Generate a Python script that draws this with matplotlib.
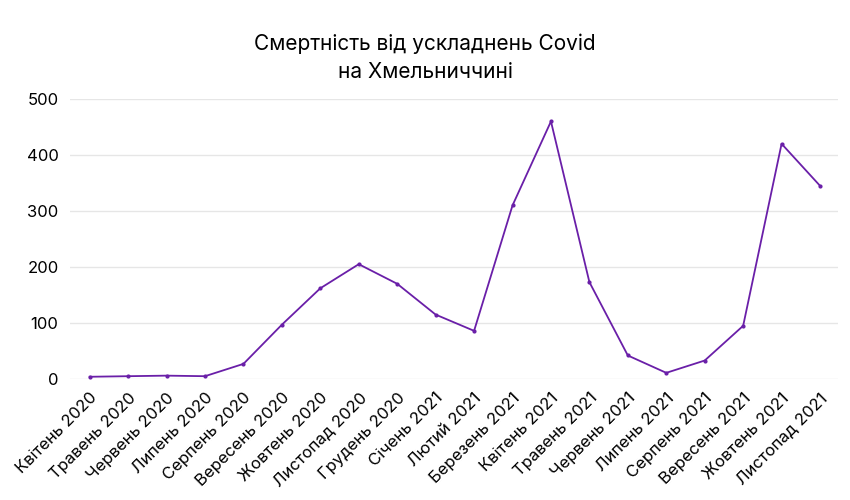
import matplotlib
matplotlib.use("Agg")
import matplotlib.pyplot as plt

months = ["Квітень 2020","Травень 2020","Червень 2020","Липень 2020","Серпень 2020","Вересень 2020",
          "Жовтень 2020","Листопад 2020","Грудень 2020","Січень 2021","Лютий 2021","Березень 2021",
          "Квітень 2021","Травень 2021","Червень 2021","Липень 2021","Серпень 2021","Вересень 2021",
          "Жовтень 2021","Листопад 2021"]
deaths = [4,5,6,5,27,97,162,205,170,115,86,310,460,173,42,11,33,95,420,345]
yticks = [0,100,200,300,400,500]

plt.rcParams['font.family'] = ['Inter', 'DejaVu Sans']
fig = plt.figure(figsize=(8.5,5), dpi=100)
ax = fig.add_axes([0.082, 0.242, 0.904, 0.56])
x = list(range(len(months)))
ax.plot(x, deaths, color='#6a1fa8', lw=1.3, marker='o', ms=2)
ax.set_ylim(0,500)
ax.set_xlim(-0.52, 19.47)
ax.set_yticks(yticks)
ax.set_yticklabels([str(v) for v in yticks], fontsize=12)
ax.set_xticks(x)
ax.set_xticklabels(months, rotation=45, ha='right', rotation_mode='anchor', fontsize=12)
ax.grid(axis='y', color='#e6e6e6', lw=1)
ax.set_axisbelow(True)
for s in ax.spines.values():
    s.set_visible(False)
ax.tick_params(length=0, pad=8)
fig.text(0.5, 0.885, "Смертність від ускладнень Covid\nна Хмельниччині", ha='center', va='center',
         fontsize=15, linespacing=1.5)
fig.savefig("out.png")
